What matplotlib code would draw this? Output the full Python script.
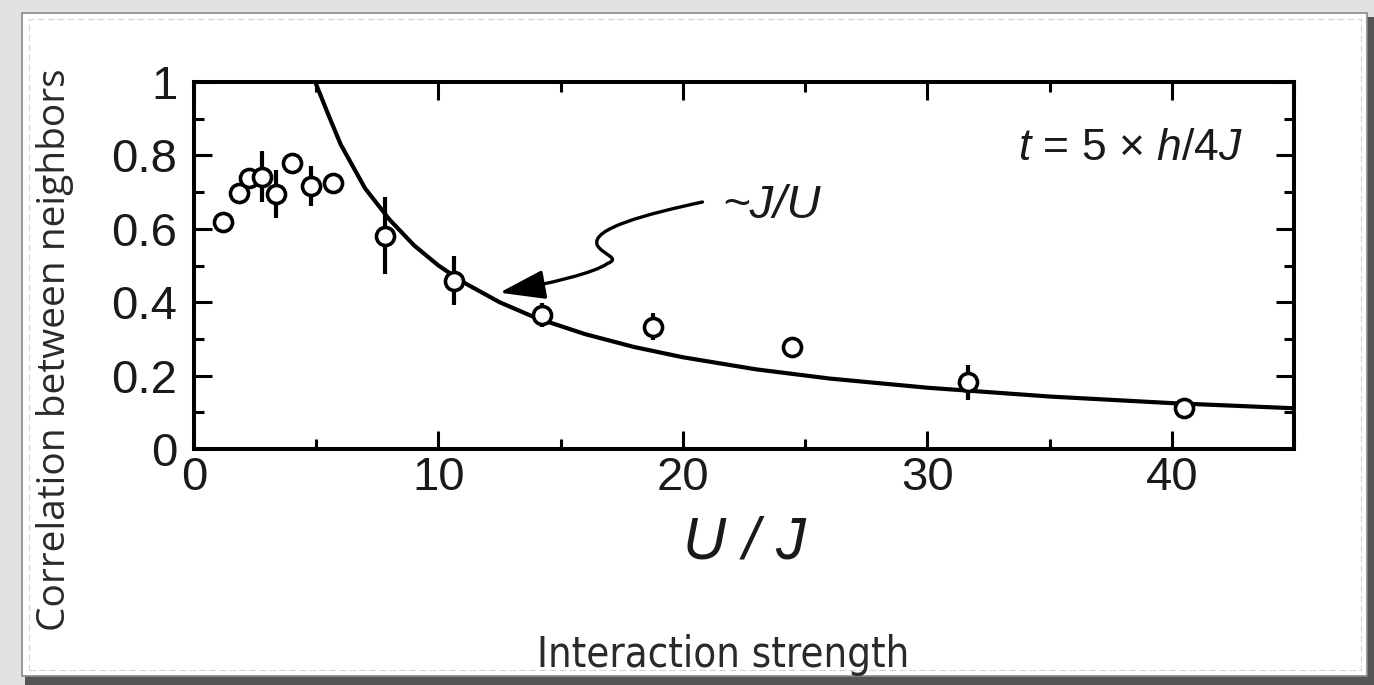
import matplotlib
matplotlib.use('Agg')
import matplotlib.pyplot as plt
from matplotlib.patches import Rectangle, FancyArrowPatch
from matplotlib.path import Path
from matplotlib.ticker import MultipleLocator, FuncFormatter

plt.rcParams['font.family'] = ['Liberation Sans', 'DejaVu Sans']
plt.rcParams['mathtext.fontset'] = 'custom'
plt.rcParams['mathtext.rm'] = 'Liberation Sans'
plt.rcParams['mathtext.it'] = 'Liberation Sans:italic'

# measured points (U/J, correlation, error)
u_over_j = [1.18, 1.86, 2.25, 2.77, 3.36, 4.0, 4.8, 5.67, 7.83, 10.63, 14.25, 18.76, 24.47, 31.67, 40.52]
corr = [0.618, 0.697, 0.738, 0.742, 0.694, 0.780, 0.717, 0.726, 0.581, 0.459, 0.365, 0.333, 0.277, 0.182, 0.111]
corr_err = [0.0, 0.02, 0.02, 0.07, 0.065, 0.0, 0.055, 0.01, 0.105, 0.066, 0.033, 0.037, 0.02, 0.048, 0.012]

# ~J/U guide curve
curve_x = [4.96, 5.5, 6, 6.5, 7, 8, 9, 10, 11, 12.5, 14, 16, 18, 20, 23, 26, 30, 35, 40, 45]
curve_y = [1.0, 0.91, 0.83, 0.77, 0.71, 0.625, 0.555, 0.50, 0.455, 0.40, 0.357, 0.313, 0.278, 0.25,
           0.217, 0.192, 0.167, 0.143, 0.125, 0.111]

W, H = 1374, 685
fig = plt.figure(figsize=(W / 100, H / 100), dpi=100)
fig.patch.set_facecolor('#e2e2e2')

# card with shadow
def px_rect(x0, y0, x1, y1, **kw):
    return Rectangle((x0 / W, 1 - y1 / H), (x1 - x0) / W, (y1 - y0) / H,
                     transform=fig.transFigure, **kw)

fig.add_artist(px_rect(25, 17, 1374, 685, facecolor='#555555', edgecolor='none', zorder=0))
fig.add_artist(px_rect(22, 13, 1367, 676, facecolor='white', edgecolor='#8a8a8a', lw=1.2, zorder=1))
fig.add_artist(px_rect(29, 19, 1361, 670, facecolor='none', edgecolor='#d4d4d4', lw=0.8,
                       linestyle=(0, (6, 3)), zorder=2))

ax = fig.add_axes([194 / W, 1 - 449 / H, 1100 / W, 367 / H])
ax.set_zorder(3)
ax.set_facecolor('white')

ax.plot(curve_x, curve_y, color='black', lw=3, zorder=2)
ax.errorbar(u_over_j, corr, yerr=corr_err, fmt='none', ecolor='black', elinewidth=3,
            capsize=0, zorder=3)
ax.plot(u_over_j, corr, 'o', mfc='white', mec='black', ms=13, mew=2.6, zorder=4)

ax.set_xlim(0, 45)
ax.set_ylim(0, 1)
ax.xaxis.set_major_locator(MultipleLocator(10))
ax.xaxis.set_minor_locator(MultipleLocator(5))
ax.yaxis.set_major_locator(MultipleLocator(0.2))
ax.yaxis.set_minor_locator(MultipleLocator(0.1))
ax.yaxis.set_major_formatter(FuncFormatter(lambda v, p: '%g' % round(v, 2)))

for s in ax.spines.values():
    s.set_linewidth(2.9)
ax.tick_params(which='both', direction='in', top=True, right=True, width=2.2,
               labelsize=34, colors='black', labelcolor='#1a1a1a')
ax.tick_params(which='major', length=13)
ax.tick_params(which='minor', length=7)
ax.tick_params(axis='y', pad=12)
ax.tick_params(axis='x', pad=5)

ax.set_xlabel('U / J', fontsize=43, fontstyle='italic', color='#1a1a1a', labelpad=11)

ax.text(33.7, 0.787, r'$t$ = 5 × $h$/4$J$', fontsize=32, color='#1a1a1a', ha='left', va='baseline')
ax.text(21.6, 0.629, '~J/U', fontsize=34, fontstyle='italic', color='#1a1a1a', ha='left', va='baseline')

# wiggly arrow pointing at the curve
verts = [(20.8, 0.673), (18.5, 0.64), (16.2, 0.60), (16.5, 0.555),
         (16.7, 0.53), (17.5, 0.52), (16.9, 0.505),
         (16.4, 0.48), (14.5, 0.45), (12.5, 0.426)]
codes = [Path.MOVETO] + [Path.CURVE4] * 9
arrow = FancyArrowPatch(path=Path(verts, codes), arrowstyle='-|>,head_length=1.4,head_width=0.45',
                        mutation_scale=20, lw=2.4, color='black', zorder=5)
ax.add_patch(arrow)

fig.text(55 / W, 1 - 350 / H, 'Correlation between neighbors', rotation=90, ha='center', va='center',
         fontsize=28, color='#2a2a2a', family=['Open Sans', 'DejaVu Sans'], zorder=4)
fig.text(723 / W, 1 - 655 / H, 'Interaction strength', ha='center', va='center',
         fontsize=30, color='#2a2a2a', family=['DejaVu Sans'], fontstretch='condensed', zorder=4)

fig.savefig('out.png', dpi=100, facecolor=fig.get_facecolor())
